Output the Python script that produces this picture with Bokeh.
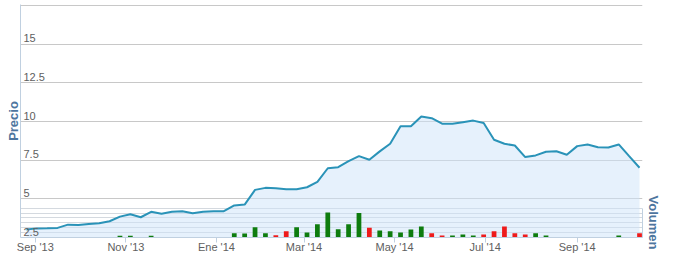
import pandas as pd
from bokeh.plotting import figure
from bokeh.models import (Range1d, LinearAxis, FixedTicker, Grid, LabelSet, Title,
                          ColumnDataSource)
from bokeh.core.properties import value
from bokeh.embed import file_html
from bokeh.resources import INLINE

# ---------------- data ----------------
start_date = "2013-08-26"
n_weeks = 60
price = [3.02, 3.09, 3.10, 3.12, 3.33, 3.31, 3.38, 3.42, 3.55, 3.85,
         4.00, 3.81, 4.16, 4.03, 4.16, 4.20, 4.07, 4.16, 4.20, 4.20,
         4.57, 4.63, 5.58, 5.71, 5.69, 5.62, 5.62, 5.75, 6.10, 6.98,
         7.05, 7.44, 7.76, 7.53, 8.07, 8.56, 9.69, 9.69, 10.33, 10.22,
         9.86, 9.86, 9.96, 10.06, 9.90, 8.82, 8.56, 8.45, 7.70, 7.81,
         8.05, 8.08, 7.85, 8.41, 8.52, 8.34, 8.32, 8.52, 7.76, 7.01]
volume = [0, 0, 0, 0, 0, 0, 0, 0, 0, 0.35,
          0.35, 0, 0.35, 0, 0, 0, 0, 0, 0, 0,
          0.88, 0.82, 2.1, 0.88, 0.47, 1.3, 2.1, 1.02, 2.7, 5.1,
          1.7, 2.7, 5.0, 2.0, 1.43, 1.3, 1.02, 1.64, 2.25, 0.88,
          0.41, 0.41, 0.61, 0.41, 0.61, 1.3, 2.25, 0.88, 0.61, 0.88,
          0.41, 0, 0, 0, 0, 0, 0, 0.41, 0, 0.88]
vol_dir = ["+"] * 24 + ["-", "-"] + ["+"] * 7 + ["-"] + ["+"] * 5 + ["-", "-"] + \
          ["+", "+", "+"] + ["-"] * 5 + ["+"] * 10 + ["-"]

price_ticks = [2.5, 5, 7.5, 10, 12.5, 15, 17.5]
price_tick_labels = ["2.5", "5", "7.5", "10", "12.5", "15", ""]
vol_ticks = [0, 1, 2, 3, 4, 5, 6]
xtick_dates = ["2013-09-01", "2013-11-01", "2014-01-01", "2014-03-01",
               "2014-05-01", "2014-07-01", "2014-09-01"]
xtick_labels = ["Sep '13", "Nov '13", "Ene '14", "Mar '14", "May '14", "Jul '14", "Sep '14"]
x_start, x_end = "2013-08-22", "2014-10-15"

# ---------------- styling ----------------
FONT = "Liberation Sans"
LINE_C = "#2a93b8"
FILL_C = "#cde4f9"
UP_C = "#0e7c0e"
DOWN_C = "#ee1b1b"
AXIS_C = "#c0d0e0"
TITLE_C = "#4d759e"
LABEL_C = "#606060"

W, H = 674, 258
BL, BR, BT, BB = 20, 32, 4, 21
frame_h = H - BT - BB
vol_px = 29.3
y_pad = 0.07  # keeps the top grid line inside the frame

dates = pd.date_range(start_date, periods=n_weeks, freq="7D")
colors = [UP_C if d == "+" else DOWN_C for d in vol_dir]

p = figure(width=W, height=H, x_axis_type="datetime",
           x_range=Range1d(pd.Timestamp(x_start), pd.Timestamp(x_end)),
           y_range=Range1d(price_ticks[0], price_ticks[-1] + y_pad),
           output_backend="svg", toolbar_location=None,
           min_border_left=BL, min_border_right=BR, min_border_top=BT, min_border_bottom=BB)
p.outline_line_color = None
p.background_fill_color = "white"
p.border_fill_color = "white"

vol_top = vol_ticks[-1] * frame_h / vol_px
p.extra_y_ranges = {"vol": Range1d(0, vol_top)}

# left axis (line only)
p.yaxis.ticker = FixedTicker(ticks=[])
p.yaxis.major_tick_in = 0
p.yaxis.major_tick_out = 0
p.yaxis.minor_tick_line_color = None
p.yaxis.axis_line_color = AXIS_C
p.yaxis.major_label_standoff = 0
p.ygrid.visible = False
p.xgrid.visible = False
p.add_layout(Grid(dimension=1, ticker=FixedTicker(ticks=price_ticks), grid_line_color="#c8c8c8"))

# bottom axis
xt = [int(pd.Timestamp(d).value // 10**6) for d in xtick_dates]
p.xaxis.ticker = FixedTicker(ticks=xt)
p.xaxis.major_label_overrides = {t: l for t, l in zip(xt, xtick_labels)}
p.xaxis.axis_line_color = AXIS_C
p.xaxis.major_tick_line_color = AXIS_C
p.xaxis.major_tick_in = 0
p.xaxis.major_tick_out = 5
p.xaxis.minor_tick_line_color = None
p.xaxis.major_label_standoff = -2
p.xaxis.major_label_text_font = FONT
p.xaxis.major_label_text_font_size = "11px"
p.xaxis.major_label_text_color = LABEL_C

# right (volume) axis
vax = LinearAxis(y_range_name="vol", ticker=FixedTicker(ticks=[]),
                 bounds=(vol_ticks[0], vol_ticks[-1]))
vax.major_tick_in = 0
vax.major_tick_out = 0
vax.minor_tick_line_color = None
vax.axis_line_color = AXIS_C
vax.major_label_standoff = 0
p.add_layout(vax, "right")
p.add_layout(Grid(dimension=1, ticker=FixedTicker(ticks=vol_ticks[1:]), y_range_name="vol",
                  grid_line_color="#d4d9df"))

# area + bars + line
p.varea(x=dates, y1=price_ticks[0], y2=price, fill_color=FILL_C, fill_alpha=0.5)
p.vbar(x=dates, top=volume, bottom=0, width=3.2 * 86400000, fill_color=colors,
       line_color=None, y_range_name="vol")
p.line(x=dates, y=price, line_color=LINE_C, line_width=2)

# inside price tick labels
src = ColumnDataSource(dict(y=price_ticks, text=price_tick_labels))
p.add_layout(LabelSet(x=3, y="y", text="text", source=src, x_units="screen",
                      y_offset=2, text_baseline="bottom", text_align="left",
                      text_font=value(FONT), text_font_size="11px", text_color=LABEL_C))

# axis titles
p.add_layout(Title(text="Precio", align="center", text_font=FONT, text_font_size="13px",
                   text_font_style="bold", text_color=TITLE_C, standoff=0), "left")
p.add_layout(Title(text="Volumen", align="right", offset=-12, text_font=FONT,
                   text_font_size="13px", text_font_style="bold", text_color=TITLE_C,
                   standoff=6), "right")

open("out.html", "w").write(file_html(p, INLINE))
